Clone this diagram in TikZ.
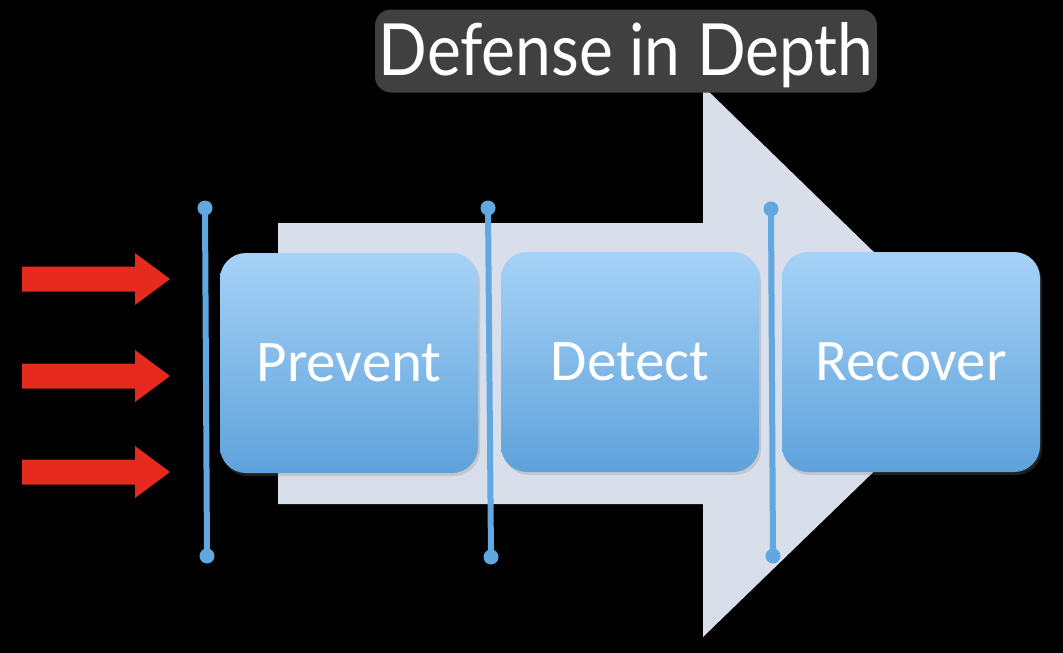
\documentclass[tikz,border=0pt]{standalone}
\usepackage{fontspec}
\newfontfamily\titlefont{Lato}
\newfontfamily\boxfont{Carlito}
\usetikzlibrary{shadows}
\definecolor{bigarrow}{HTML}{D8DEEA}
\definecolor{boxtop}{HTML}{A6D2F7}
\definecolor{boxbot}{HTML}{5EA2DB}
\definecolor{barblue}{HTML}{62A8E0}
\definecolor{attack}{HTML}{E62A1D}
\definecolor{titlegray}{HTML}{404040}
\tikzset{
  stage/.style={rounded corners=26pt, top color=boxtop, bottom color=boxbot,
    minimum width=258pt, minimum height=220pt, inner sep=0pt,
    text=white, font=\boxfont\fontsize{59}{59}\selectfont,
    drop shadow={shadow xshift=2pt, shadow yshift=-3pt, opacity=0.25}},
  barline/.style={draw=barblue, line width=6pt},
  bardot/.style={fill=barblue},
  attackarrow/.style={fill=attack},
  titlebox/.style={fill=titlegray, rounded corners=16pt, minimum width=502pt,
    minimum height=83pt, inner sep=0pt, text=white,
    font=\titlefont\fontsize{72}{72}\selectfont}
}
\begin{document}
\begin{tikzpicture}[x=1pt,y=-1pt]
\fill[black] (0,0) rectangle (1063,653);
\useasboundingbox (0,0) rectangle (1063,653);
% big arrow
\fill[bigarrow] (278,223) -- (703,223) -- (703,86) -- (987,362) -- (703,637)
  -- (703,504) -- (278,504) -- cycle;
% stages
\node[stage] (prevent) at (349,363) {Prevent};
\node[stage] (detect) at (630,362) {Detect};
\node[stage] (recover) at (911,362) {Recover};
% barrier lines
\coordinate (l1t) at (205,208); \coordinate (l1b) at (207,556);
\coordinate (l2t) at (488,208); \coordinate (l2b) at (491,557);
\coordinate (l3t) at (771,209); \coordinate (l3b) at (773,556);
\foreach \t/\b in {l1t/l1b,l2t/l2b,l3t/l3b}{
  \draw[barline] (\t) -- (\b);
  \fill[bardot] (\t) circle (7.5);
  \fill[bardot] (\b) circle (7.5);
}
% attack arrows
\foreach \y in {279,376,472}{
  \fill[attackarrow] (22,\y-12.5) -- (135,\y-12.5) -- (135,\y-26) -- (170,\y)
    -- (135,\y+26) -- (135,\y+12.5) -- (22,\y+12.5) -- cycle;
}
% title
\node[titlebox] (title) at (626,51) {\raisebox{-24pt}[0pt][0pt]{\scalebox{0.89}[1]{Defense in Depth}}};
\end{tikzpicture}
\end{document}
